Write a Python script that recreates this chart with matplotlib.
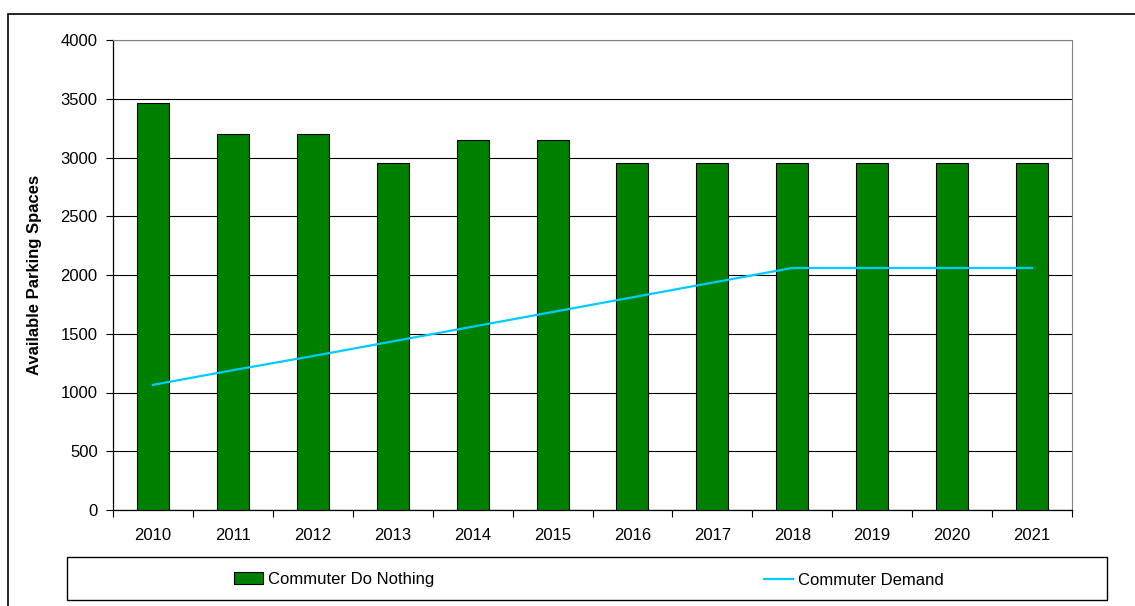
import numpy as np
import matplotlib.pyplot as plt
from matplotlib.patches import Rectangle
from matplotlib.lines import Line2D

plt.rcParams['font.family'] = ['Liberation Sans', 'DejaVu Sans']

years = ['2010', '2011', '2012', '2013', '2014', '2015',
         '2016', '2017', '2018', '2019', '2020', '2021']
do_nothing = [3460, 3200, 3200, 2950, 3150, 3150,
              2950, 2950, 2950, 2950, 2950, 2950]
demand = [1065, 1190, 1310, 1435, 1560, 1685,
          1810, 1935, 2060, 2060, 2060, 2060]

W, H = 1135, 606
fig = plt.figure(figsize=(W / 100, H / 100), dpi=100)
fig.patch.set_facecolor('white')

# plot area in pixel box: x 113..1072, y 40..510
ax = fig.add_axes([113 / W, 1 - 510 / H, (1072 - 113) / W, (510 - 40) / H])

x = np.arange(len(years))
bars = ax.bar(x, do_nothing, width=0.4, color='#008000', edgecolor='black',
              linewidth=0.8, zorder=3, label='Commuter Do Nothing')
line, = ax.plot(x, demand, color='#00CCFF', lw=1.6, zorder=4,
                label='Commuter Demand')

ax.set_xlim(-0.5, len(years) - 0.5)
ax.set_ylim(0, 4000)
ax.set_yticks(np.arange(0, 4001, 500))
ax.yaxis.grid(True, color='black', lw=0.8, zorder=0)
ax.set_axisbelow(True)

ax.set_xticks(x)
ax.set_xticklabels(years, fontsize=12)
ax.set_xticks(np.arange(-0.5, len(years)), minor=True)
ax.tick_params(axis='x', which='major', length=0, pad=13)
ax.tick_params(axis='x', which='minor', length=5, width=0.8, direction='out')
ax.tick_params(axis='y', length=5, width=0.8, direction='out', pad=6,
               labelsize=12)

ax.spines['top'].set_color('#808080')
ax.spines['right'].set_color('#808080')
for s in ('left', 'bottom'):
    ax.spines[s].set_color('black')
    ax.spines[s].set_linewidth(0.9)

ax.set_ylabel('Available Parking Spaces', fontsize=12, fontweight='bold')
ax.yaxis.set_label_coords((42 - 113) / (1072 - 113), 0.5)

# legend box below the chart
fig.patches.append(Rectangle((67 / W, 1 - 600 / H), (1107 - 67) / W, 43 / H,
                             transform=fig.transFigure, fill=False,
                             edgecolor='black', lw=1.0))
ly = 1 - 579.5 / H
fig.legend(handles=[bars], loc='center left', bbox_to_anchor=(234 / W, ly),
           frameon=False, fontsize=12, handlelength=1.75, handletextpad=0.3,
           borderpad=0, borderaxespad=0)
fig.legend(handles=[Line2D([], [], color='#00CCFF', lw=1.6,
                           label='Commuter Demand')],
           loc='center left', bbox_to_anchor=(764 / W, ly - 0.002),
           frameon=False, fontsize=12, handlelength=1.75, handletextpad=0.3,
           borderpad=0, borderaxespad=0)

# outer chart border
fig.patches.append(Rectangle((8 / W, -0.1), 1.2, 1 - 14 / H + 0.1,
                             transform=fig.transFigure, fill=False,
                             edgecolor='black', lw=1.2))

fig.savefig('out.png', dpi=100)
